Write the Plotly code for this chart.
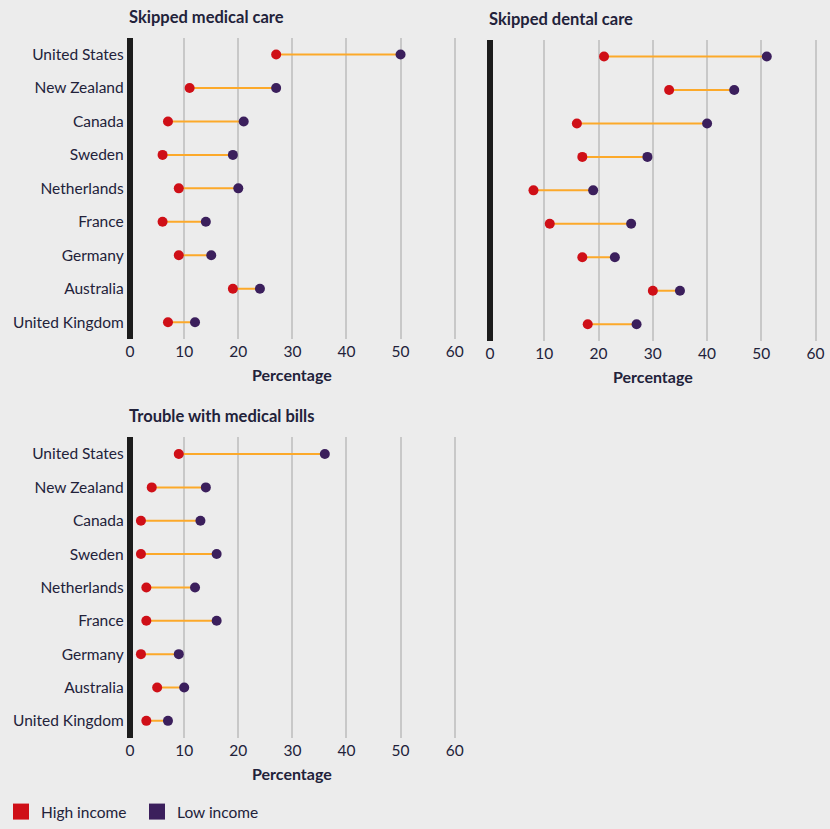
import plotly.graph_objects as go

countries = ["United States", "New Zealand", "Canada", "Sweden", "Netherlands",
             "France", "Germany", "Australia", "United Kingdom"]

medical_high = [27, 11, 7, 6, 9, 6, 9, 19, 7]
medical_low = [50, 27, 21, 19, 20, 14, 15, 24, 12]

dental_high = [21, 33, 16, 17, 8, 11, 17, 30, 18]
dental_low = [51, 45, 40, 29, 19, 26, 23, 35, 27]

bills_high = [9, 4, 2, 2, 3, 3, 2, 5, 3]
bills_low = [36, 14, 13, 16, 12, 16, 9, 10, 7]

panel_titles = ["Skipped medical care", "Skipped dental care", "Trouble with medical bills"]
x_ticks = [0, 10, 20, 30, 40, 50, 60]
axis_title = "Percentage"
legend_labels = ["High income", "Low income"]

RED = "#cf0f17"
PURPLE = "#3b1f5c"
ORANGE = "#fca92a"
BG = "#ececec"
TEXT = "#22223a"
FONT = "Lato"

W, H = 830, 829

def px_x(p):
    return p / W

def px_y(p):
    return 1 - p / H

# domains in pixel coordinates (left, right, top, bottom)
panels = [
    (medical_high, medical_low, (125.3, 462.3, 38, 341)),
    (dental_high, dental_low, (487.0, 825.0, 40, 343)),
    (bills_high, bills_low, (125.3, 462.3, 440, 742)),
]

fig = go.Figure()
layout = dict(
    width=W, height=H,
    margin=dict(l=0, r=0, t=0, b=0),
    paper_bgcolor=BG, plot_bgcolor=BG,
    font=dict(family=FONT, color=TEXT, size=15),
)

annotations = []
for i, (hi, lo, (l, r, t, b)) in enumerate(panels):
    n = "" if i == 0 else str(i + 1)
    xa, ya = "x" + n, "y" + n
    seg_x, seg_y = [], []
    for c, h, w in zip(countries, hi, lo):
        seg_x += [h, w, None]
        seg_y += [c, c, None]
    fig.add_trace(go.Scatter(x=seg_x, y=seg_y, mode="lines",
                             line=dict(color=ORANGE, width=2),
                             xaxis=xa, yaxis=ya, showlegend=False, hoverinfo="skip"))
    fig.add_trace(go.Scatter(x=hi, y=countries, mode="markers",
                             marker=dict(color=RED, size=10),
                             xaxis=xa, yaxis=ya, showlegend=False, name=legend_labels[0]))
    fig.add_trace(go.Scatter(x=lo, y=countries, mode="markers",
                             marker=dict(color=PURPLE, size=10),
                             xaxis=xa, yaxis=ya, showlegend=False, name=legend_labels[1]))
    layout["xaxis" + n] = dict(
        domain=[px_x(l), px_x(r)], anchor=ya, range=[-1, 61],
        tickvals=x_ticks, showgrid=True, gridcolor="#c8c8c8", gridwidth=1.5,
        zeroline=True, zerolinecolor="#1c1c1c", zerolinewidth=6,
        showline=False, ticks="", tickfont=dict(size=15.5, color=TEXT),
        ticklabelstandoff=2, fixedrange=True,
    )
    layout["yaxis" + n] = dict(
        domain=[px_y(b), px_y(t)], anchor=xa, type="category",
        categoryorder="array", categoryarray=countries[::-1],
        range=[-0.5, 8.5], showgrid=False, zeroline=False, showline=False,
        ticks="", showticklabels=(i != 1), tickfont=dict(size=15.5, color=TEXT),
        fixedrange=True,
    )
    annotations.append(dict(text="<b>" + panel_titles[i] + "</b>", xref="paper", yref="paper",
                            x=px_x(l + 2.5), y=px_y(t - 21), xanchor="left", yanchor="middle",
                            showarrow=False, font=dict(size=16.5, color=TEXT)))
    annotations.append(dict(text="<b>" + axis_title + "</b>", xref="paper", yref="paper",
                            x=px_x((l + r) / 2), y=px_y(b + 36), xanchor="center", yanchor="middle",
                            showarrow=False, font=dict(size=16, color=TEXT)))

# legend-only traces
for lab, col in zip(legend_labels, [RED, PURPLE]):
    fig.add_trace(go.Scatter(x=[None], y=[None], mode="markers", name=lab,
                             marker=dict(color=col, size=20, symbol="square"),
                             showlegend=True))

layout["annotations"] = annotations
layout["legend"] = dict(orientation="h", x=px_x(1), y=px_y(817), xanchor="left", yanchor="middle",
                        bgcolor="rgba(0,0,0,0)", font=dict(size=15.5, color=TEXT),
                        itemwidth=30, entrywidth=91)
fig.update_layout(**layout)
fig.write_html("out.html", config={"displayModeBar": False},
               post_script="document.body.style.margin='0';document.body.style.background='#ececec';")
